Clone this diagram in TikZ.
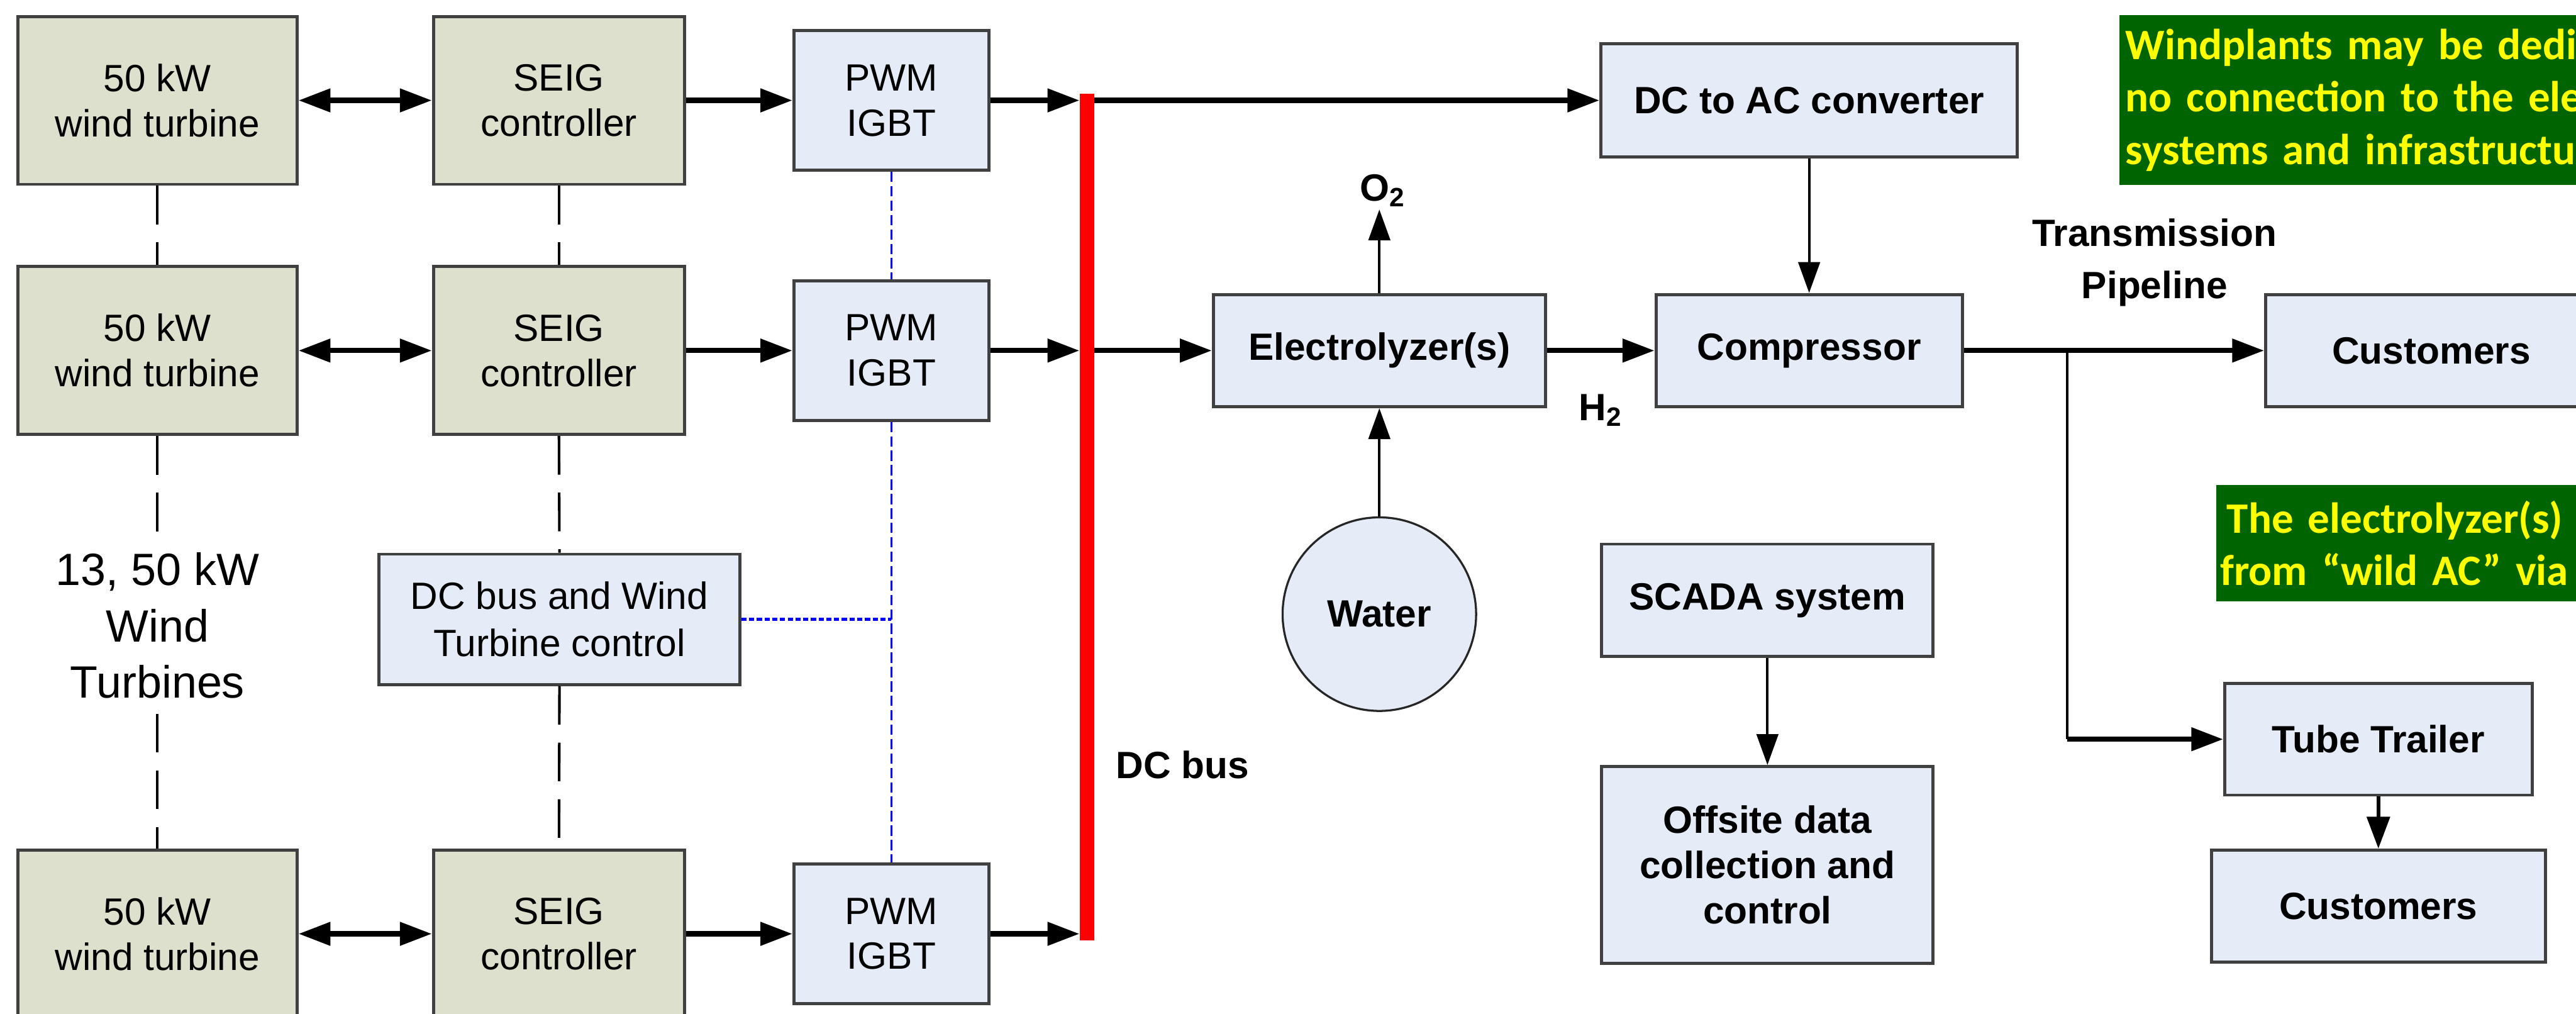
\documentclass[tikz,border=0pt]{standalone}
\usepackage{fontspec}
\setmainfont{Liberation Sans}
\newfontfamily\notefont[WordSpace=0.8]{Carlito}
\usetikzlibrary{shapes, arrows.meta, positioning, calc}
\definecolor{turbinefill}{RGB}{221,224,204}
\definecolor{boxfill}{RGB}{230,236,247}
\definecolor{notegreen}{RGB}{0,100,0}
\definecolor{noteyellow}{RGB}{255,255,0}

\begin{document}
\begin{tikzpicture}[
        turbine/.style={rectangle, draw=black!75, line width=0.06cm, fill=turbinefill, minimum width=5.42cm, minimum height=3.26cm, align=center, inner sep=0pt, font=\fontsize{21}{25}\selectfont},
        seig/.style={turbine, minimum width=4.88cm},
        pwm/.style={turbine, fill=boxfill, minimum width=3.79cm, minimum height=2.71cm},
        block/.style={rectangle, draw=black!75, line width=0.06cm, fill=boxfill, minimum height=2.18cm, align=center, inner sep=0pt, font=\fontsize{21}{25}\selectfont\bfseries},
        water/.style={circle, draw=black!85, line width=0.04cm, fill=boxfill, minimum size=3.76cm, inner sep=0pt, font=\fontsize{21}{25}\selectfont\bfseries},
        note/.style={rectangle, fill=notegreen, text=noteyellow, anchor=north west, text width=12cm, inner xsep=0.12cm, align=left, font=\notefont\bfseries\fontsize{24}{29}\selectfont},
        tag/.style={font=\fontsize{21}{25}\selectfont\bfseries, align=center, inner sep=0.05cm},
        arrow/.style={-{Triangle[length=0.62cm, width=0.44cm]}, line width=0.1cm},
        twoway/.style={{Triangle[length=0.62cm, width=0.44cm]}-{Triangle[length=0.62cm, width=0.44cm]}, line width=0.1cm},
        thinarrow/.style={-{Triangle[length=0.6cm, width=0.42cm]}, line width=0.05cm},
        link/.style={line width=0.05cm, dash pattern=on 0.75cm off 0.35cm},
        ctrl/.style={draw=blue, line width=0.04cm, dash pattern=on 0.2cm off 0.08cm},
        ctrldot/.style={draw=blue, line width=0.06cm, dash pattern=on 0.1cm off 0.05cm}
    ]
        \useasboundingbox (0,0) rectangle (50.05,-19.69);
        \clip (0,0) rectangle (50.05,-19.69);

        \node[turbine] (t1) at (3.06,-1.95) {50 kW\\wind turbine};
        \node[turbine] (t2) at (3.06,-6.81) {50 kW\\wind turbine};
        \node[turbine] (t3) at (3.06,-18.14) {50 kW\\wind turbine};
        \node[font=\fontsize{25}{31}\selectfont, align=center, inner xsep=0pt, inner ysep=0.3cm] (wtlabel) at (3.06,-12.15) {13, 50 kW\\Wind\\Turbines};
        \node[seig] (s1) at (10.86,-1.95) {SEIG\\controller};
        \node[seig] (s2) at (10.86,-6.81) {SEIG\\controller};
        \node[seig] (s3) at (10.86,-18.14) {SEIG\\controller};
        \node[pwm] (p1) at (17.32,-1.95) {PWM\\IGBT};
        \node[pwm] (p2) at (17.32,-6.81) {PWM\\IGBT};
        \node[pwm] (p3) at (17.32,-18.14) {PWM\\IGBT};
        \node[block, font=\fontsize{21}{26}\selectfont, minimum width=7.01cm, minimum height=2.53cm] (dcbox) at (10.87,-12.03) {DC bus and Wind\\Turbine control};
        \node[fill=red, minimum width=0.28cm, minimum height=16.45cm, inner sep=0pt] (bus) at (21.12,-10.045) {};
        \node[tag] (buslabel) at (22.98,-14.86) {DC bus};

        \node[block, minimum width=8.09cm, minimum height=2.20cm] (dcac) at (35.15,-1.95) {DC to AC converter};
        \node[block, minimum width=6.45cm] (elec) at (26.80,-6.81) {Electrolyzer(s)};
        \node[block, minimum width=5.95cm] (comp) at (35.15,-6.81) {Compressor};
        \node[block, minimum width=6.44cm] (cust1) at (47.24,-6.81) {Customers};
        \node[water] (water) at (26.80,-11.93) {Water};
        \node[tag] (o2) at (26.86,-3.70) {O\textsubscript{2}};
        \node[tag] (h2) at (31.10,-7.97) {H\textsubscript{2}};
        \node[tag, font=\fontsize{21}{29}\selectfont\bfseries] (pipe) at (41.86,-5.10) {Transmission\\Pipeline};
        \node[block, minimum width=6.44cm] (scada) at (34.34,-11.66) {SCADA system};
        \node[block, minimum width=6.44cm, minimum height=3.82cm] (offsite) at (34.34,-16.80) {Offsite data\\collection and\\control};
        \node[block, minimum width=5.97cm, minimum height=2.17cm] (tube) at (46.21,-14.36) {Tube Trailer};
        \node[block, minimum width=6.49cm, minimum height=2.17cm] (cust2) at (46.21,-17.60) {Customers};
        \coordinate (split) at (40.16,-6.81);
        \coordinate (bend) at (split |- tube);
        \coordinate (tap) at (dcbox.east -| p2.south);

        \node[note, minimum height=3.29cm] (note1) at (41.17,-0.29) {Windplants may be dedi\\no connection to the ele\\systems and infrastructu};
        \node[note, inner xsep=0.08cm, minimum height=2.27cm] (note2) at (43.05,-9.41) {\hspace*{0.13cm}The electrolyzer(s)\\from “wild AC” via};

        \draw[twoway] (t1) -- (s1);
        \draw[twoway] (t2) -- (s2);
        \draw[twoway] (t3) -- (s3);
        \draw[arrow] (s1) -- (p1);
        \draw[arrow] (s2) -- (p2);
        \draw[arrow] (s3) -- (p3);
        \draw[arrow] (p1.east) -- (p1 -| bus.west);
        \draw[arrow] (p2.east) -- (p2 -| bus.west);
        \draw[arrow] (p3.east) -- (p3 -| bus.west);
        \draw[link] (t1.south) -- (t2.north);
        \draw[link] (t2.south) -- (wtlabel.north);
        \draw[link] (wtlabel.south) -- (t3.north);
        \draw[link] (s1.south) -- (s2.north);
        \draw[link] (s2.south) -- (dcbox.north);
        \draw[link] (dcbox.south) -- (s3.north);
        \draw[ctrl] (p1.south) -- (p2.north);
        \draw[ctrl] (p2.south) -- (p3.north);
        \draw[ctrldot] (dcbox.east) -- (tap);

        \draw[arrow] (bus.east |- dcac) -- (dcac.west);
        \draw[arrow] (bus.east |- elec) -- (elec.west);
        \draw[arrow] (elec) -- (comp);
        \draw[thinarrow] (elec.north) -- (elec.north |- o2.south);
        \draw[thinarrow] (water.north) -- (elec.south);
        \draw[thinarrow] (dcac.south) -- (comp.north);
        \draw[arrow] (comp) -- (cust1);
        \draw[line width=0.05cm] (split) -- (bend);
        \draw[arrow] (bend) -- (tube.west);
        \draw[arrow, line width=0.08cm] (tube.south) -- (cust2.north);
        \draw[thinarrow] (scada.south) -- (offsite.north);
    \end{tikzpicture}
\end{document}
